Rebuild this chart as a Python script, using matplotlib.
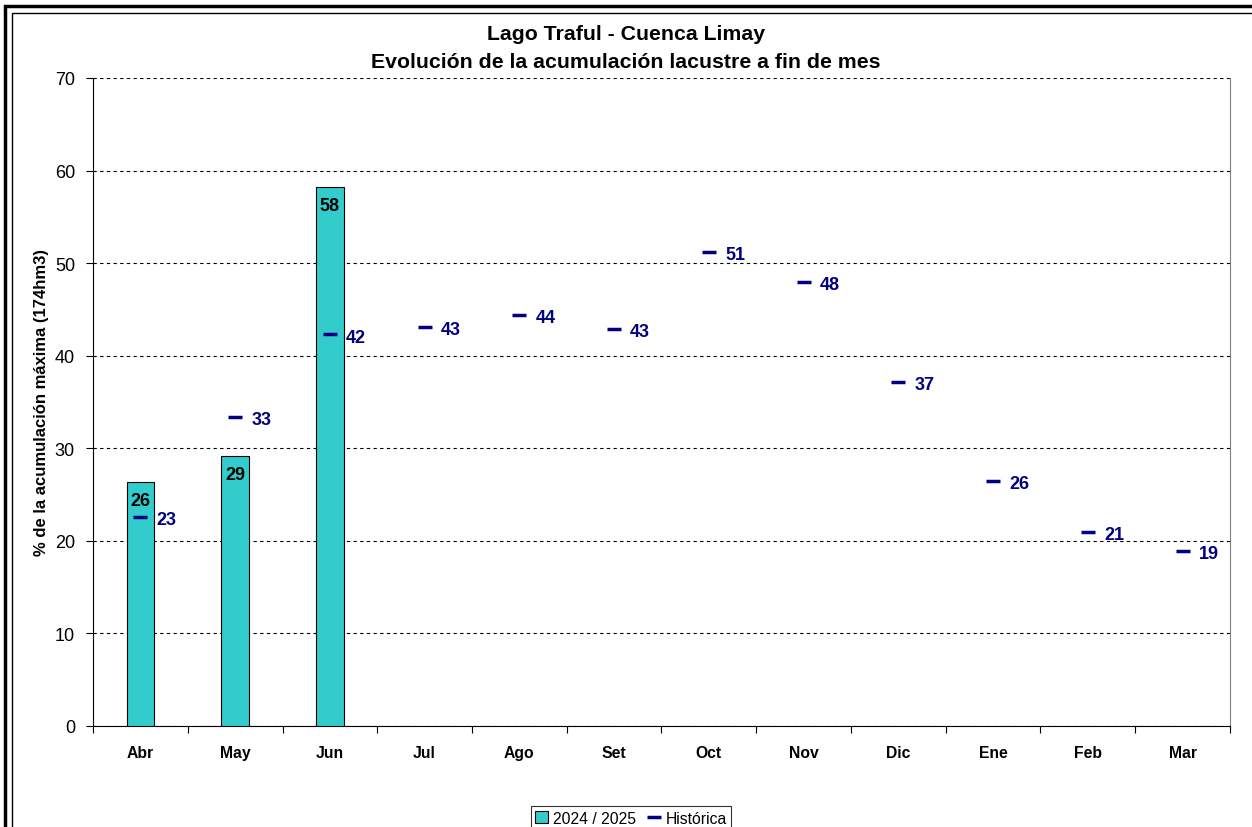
import matplotlib.pyplot as plt
from matplotlib.patches import Rectangle
import numpy as np

plt.rcParams['font.family'] = ['Liberation Sans', 'DejaVu Sans']

# datos
meses = ['Abr', 'May', 'Jun', 'Jul', 'Ago', 'Set', 'Oct', 'Nov', 'Dic', 'Ene', 'Feb', 'Mar']
actual = [26.4, 29.2, 58.2]
historica = [22.6, 33.4, 42.3, 43.1, 44.4, 42.9, 51.2, 48.0, 37.2, 26.5, 21.0, 18.9]
etiq_actual = ['26', '29', '58']
etiq_hist = ['23', '33', '42', '43', '44', '43', '51', '48', '37', '26', '21', '19']

fig = plt.figure(figsize=(12.52, 8.28), dpi=100)
ax = fig.add_axes([0.0743, 0.1220, 0.9081, 0.7826])

x = np.arange(len(meses))
x_act = x[:len(actual)]

# barras 2024/2025
barras = ax.bar(x_act, actual, width=0.29, color='#33CCCC', edgecolor='black', linewidth=0.8,
                label='2024 / 2025', zorder=3)
for xi, v, t in zip(x_act, actual, etiq_actual):
    ax.text(xi, v - 1.1, t, ha='center', va='top', fontsize=13, fontweight='bold',
            color='black', zorder=5)

# histórica
linea, = ax.plot(x, historica, linestyle='none', marker='_', markersize=10, markeredgewidth=2.5,
                 color='#000080', label='Histórica', zorder=4)
for xi, v, t in zip(x, historica, etiq_hist):
    ax.text(xi + 0.17, v - 0.3, t, ha='left', va='center', fontsize=13, fontweight='bold',
            color='#000080', zorder=5)

ax.set_xlim(-0.5, len(meses) - 0.5)
ax.set_ylim(0, 70)
ax.set_yticks(range(0, 71, 10))
ax.tick_params(axis='y', labelsize=13, direction='out', length=5, pad=8)

# ticks entre categorías, etiquetas en el centro
ax.set_xticks(np.arange(-0.5, len(meses), 1))
ax.set_xticklabels([])
ax.set_xticks(x, minor=True)
ax.set_xticklabels(meses, minor=True, fontsize=11.3, fontweight='bold')
ax.tick_params(axis='x', which='major', direction='out', length=5)
ax.tick_params(axis='x', which='minor', length=0, pad=14)

ax.grid(axis='y', linestyle=(0, (3, 3)), color='black', linewidth=0.8, zorder=0)
ax.spines['top'].set_visible(False)
ax.spines['right'].set_color('#808080')
ax.spines['left'].set_color('black')
ax.spines['bottom'].set_color('black')

ax.set_ylabel('% de la acumulación máxima (174hm3)', fontsize=12, fontweight='bold', labelpad=4)

fig.text(0.5, 1 - 35 / 828, 'Lago Traful - Cuenca Limay', ha='center', va='center',
         fontsize=15.3, fontweight='bold')
fig.text(0.5, 1 - 63 / 828, 'Evolución de la acumulación lacustre a fin de mes', ha='center',
         va='center', fontsize=15.3, fontweight='bold')

leg = fig.legend([barras, linea], ['2024 / 2025', 'Histórica'], loc='upper center',
                 bbox_to_anchor=(631 / 1252, 1 - 799 / 828),
                 ncol=2, fontsize=11.3, frameon=True, fancybox=False, edgecolor='black',
                 handlelength=0.8, handleheight=0.8, handletextpad=0.3, columnspacing=0.8,
                 borderpad=0.3)
leg.get_frame().set_linewidth(0.8)

# marco doble
fig.patches.append(Rectangle((5 / 1252, -0.1), 1.2, 1 - 7 / 828 + 0.1, transform=fig.transFigure,
                             fill=False, edgecolor='black', linewidth=2.5))
fig.patches.append(Rectangle((12 / 1252, -0.1), 1.2, 1 - 14 / 828 + 0.1, transform=fig.transFigure,
                             fill=False, edgecolor='black', linewidth=1.0))

fig.savefig('out.png', dpi=100)
